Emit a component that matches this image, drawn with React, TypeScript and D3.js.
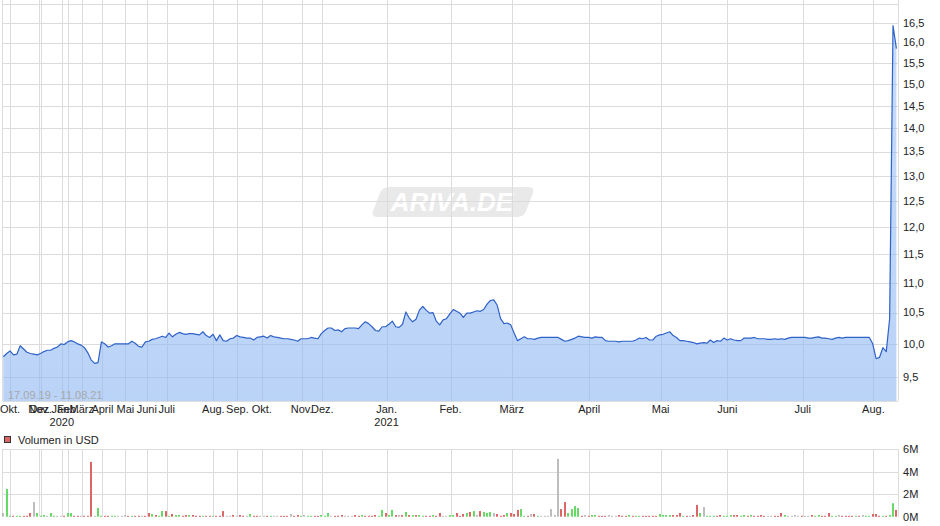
import React from 'react';
import * as d3 from 'd3';

// Kurs (USD) pro Handelstag, 17.09.19 - 11.08.21
const prices = [
  9.80, 9.85, 9.89, 9.83, 9.84, 9.97, 9.92, 9.87, 9.85, 9.84,
  9.83, 9.85, 9.88, 9.90, 9.90, 9.93, 9.95, 10.00, 9.99, 10.03,
  10.05, 10.03, 10.00, 9.98, 9.94, 9.86, 9.75, 9.70, 9.71, 10.03,
  10.00, 9.95, 9.97, 10.00, 10.00, 10.00, 10.00, 10.00, 10.04, 10.01,
  9.96, 9.95, 10.03, 10.04, 10.07, 10.08, 10.10, 10.12, 10.10, 10.17,
  10.11, 10.15, 10.18, 10.16, 10.15, 10.16, 10.16, 10.15, 10.14, 10.19,
  10.13, 10.10, 10.15, 10.05, 10.14, 10.05, 10.04, 10.08, 10.09, 10.13,
  10.11, 10.10, 10.09, 10.09, 10.06, 10.10, 10.11, 10.12, 10.09, 10.13,
  10.11, 10.10, 10.09, 10.08, 10.08, 10.07, 10.06, 10.04, 10.08, 10.08,
  10.08, 10.10, 10.09, 10.08, 10.16, 10.21, 10.25, 10.25, 10.21, 10.22,
  10.19, 10.24, 10.25, 10.25, 10.25, 10.24, 10.30, 10.35, 10.32, 10.27,
  10.21, 10.20, 10.27, 10.27, 10.31, 10.36, 10.27, 10.26, 10.31, 10.51,
  10.41, 10.35, 10.39, 10.54, 10.60, 10.54, 10.49, 10.50, 10.36, 10.30,
  10.38, 10.40, 10.48, 10.55, 10.52, 10.49, 10.42, 10.49, 10.49, 10.51,
  10.53, 10.52, 10.55, 10.64, 10.70, 10.71, 10.62, 10.40, 10.32, 10.33,
  10.30, 10.17, 10.05, 10.08, 10.11, 10.08, 10.08, 10.07, 10.09, 10.10,
  10.10, 10.10, 10.10, 10.10, 10.10, 10.07, 10.04, 10.05, 10.07, 10.09,
  10.12, 10.11, 10.10, 10.10, 10.09, 10.11, 10.10, 10.10, 10.05, 10.04,
  10.04, 10.04, 10.03, 10.04, 10.04, 10.04, 10.04, 10.06, 10.09, 10.08,
  10.10, 10.06, 10.06, 10.12, 10.14, 10.15, 10.17, 10.19, 10.13, 10.10,
  10.05, 10.05, 10.04, 10.03, 10.02, 10.00, 10.01, 10.02, 10.01, 10.06,
  10.02, 10.05, 10.04, 10.09, 10.06, 10.08, 10.06, 10.05, 10.05, 10.09,
  10.09, 10.09, 10.10, 10.08, 10.08, 10.08, 10.07, 10.07, 10.08, 10.07,
  10.08, 10.07, 10.09, 10.10, 10.10, 10.10, 10.10, 10.10, 10.09, 10.09,
  10.10, 10.11, 10.09, 10.09, 10.08, 10.07, 10.09, 10.10, 10.09, 10.10,
  10.10, 10.10, 10.10, 10.10, 10.10, 10.10, 10.10, 10.00, 9.77, 9.79,
  9.94, 9.88, 10.40, 16.43, 15.85,
];

// Volumen in Mio. USD pro Handelstag
const volumes = [
  0.33, 2.47, 0.08, 0.08, 0.08, 0.08, 0.08, 0.08, 0.33, 1.3,
  0.33, 0.08, 0.15, 0.08, 0.33, 0.08, 0.08, 0.08, 0.08, 0.33,
  0.33, 0.08, 0.08, 0.08, 0.08, 0.08, 4.88, 0.08, 0.77, 0.08,
  0.08, 0.08, 0.08, 0.08, 0.08, 0.08, 0.15, 0.08, 0.08, 0.08,
  0.08, 0.08, 0.08, 0.33, 0.24, 0.15, 0.08, 0.5, 0.5, 0.08,
  0.24, 0.15, 0.15, 0.08, 0.15, 0.15, 0.15, 0.08, 0.08, 0.08,
  0.08, 0.08, 0.08, 0.08, 0.08, 0.5, 0.08, 0.08, 0.15, 0.08,
  0.15, 0.08, 0.08, 0.24, 0.08, 0.08, 0.08, 0.08, 0.08, 0.08,
  0.08, 0.08, 0.08, 0.08, 0.08, 0.24, 0.08, 0.15,
  0.08, 0.15, 0.08, 0.08, 0.08, 0.08, 0.15, 0.08, 0.33, 0.08,
  0.08, 0.08, 0.15, 0.08, 0.08, 0.08, 0.15, 0.08, 0.15, 0.08,
  0.08, 0.08, 0.15, 0.08, 0.6, 0.33, 0.15, 0.6, 0.15, 0.15,
  0.15, 0.42, 0.15, 0.15, 0.15, 0.15, 0.08, 0.08, 0.08, 0.15,
  0.08, 0.33, 0.08, 0.08, 0.15, 0.15, 0.33, 0.08, 0.24, 0.33,
  0.42, 0.5, 0.15, 0.5, 0.42, 0.33, 0.42, 0.33, 0.24, 0.08,
  0.15, 0.33, 0.33, 0.24, 0.6, 0.68, 0.08, 0.08, 0.24, 0.24,
  0.08, 0.08, 0.08, 0.08, 0.68, 0.15, 5.15, 0.68, 1.3, 0.33,
  0.68, 0.95, 0.77, 0.08, 0.15, 0.08, 0.15, 0.15, 0.08,
  0.08, 0.08, 0.15, 0.08, 0.08, 0.15, 0.08, 0.08, 0.15, 0.08,
  0.08, 0.08, 0.08, 0.08, 0.08, 0.08, 0.08, 0.24, 0.15, 0.15,
  0.15, 0.15, 0.15, 0.33, 0.08, 0.08, 0.08, 0.15, 1.04, 0.33,
  0.86, 0.08, 0.08, 0.08, 0.08, 0.15, 0.08, 0.08, 0.15, 0.15,
  0.15, 0.08, 0.15, 0.08, 0.15, 0.08, 0.08, 0.15, 0.08, 0.08,
  0.08, 0.08, 0.08, 0.33, 0.15, 0.08, 0.08, 0.15, 0.08, 0.08,
  0.08, 0.08, 0.15, 0.08, 0.15, 0.08, 0.08, 0.33, 0.08, 0.08,
  0.15, 0.08, 0.08, 0.08, 0.08, 0.08, 0.08, 0.15, 0.08, 0.08,
  0.24, 0.24, 0.08, 0.08, 0.08, 0.15, 1.2, 0.6,
];

// u = gestiegen, d = gefallen, n = unverändert
const volumeDirection = (
  'nuuduudddn' + 'uuunuunndu' + 'uddndddnuu' + 'dduunnndud' + 'dndduduudu' +
  'duuddudddu' + 'ddudddnndn' + 'ddnuddnndu' + 'nndddndd' +
  'unuudduuun' + 'dddnnnddud' + 'ddduuduudn' + 'dududuuddu' + 'ddnnuudddu' +
  'dunduuundd' + 'duddduudnd' + 'unnnnnnddu' + 'uuudnduud' +
  'ddnnndddud' + 'uuddddduuu' + 'udddudnddu' + 'nuuudduuud' + 'duududdddn' +
  'ndddunnnnd' + 'nnduuddduu' + 'nddddudnuu' + 'ddduduud'
).split('');

// Monatsanfänge als Position auf der Handelstag-Achse
const monthLabels = ['Okt.', 'Nov.', 'Dez.', 'Jan.', 'Feb.', 'März', 'April', 'Mai', 'Juni', 'Juli', 'Aug.', 'Sep.', 'Okt.', 'Nov.', 'Dez.', 'Jan.', 'Feb.', 'März', 'April', 'Mai', 'Juni', 'Juli', 'Aug.'];
const monthPositions = [2.0, 10.6, 11.1, 17.3, 19.2, 23.2, 29.3, 36.1, 42.4, 48.3, 62.1, 69.2, 76.4, 88.2, 94.3, 113.3, 132.2, 150.3, 173.2, 194.3, 214.0, 236.3, 257.2];
const yearLabels = ['2020', '2021'];
const yearPositions = [17.3, 113.3];

const priceTicks = [9.5, 10.0, 10.5, 11.0, 11.5, 12.0, 12.5, 13.0, 13.5, 14.0, 14.5, 15.0, 15.5, 16.0, 16.5, 17.0];
const volumeTicks = [0, 2, 4, 6];

const font = '"Liberation Sans", Arial, sans-serif';
const gridColor = '#dcdcdc';
const dirColor: Record<string, string> = { u: '#66d966', d: '#dc6565', n: '#bdbdbd' };

const App = () => {
  const width = 940;
  const height = 526;
  const left = 2.5;
  const right = 898;
  const plotTop = 0;
  const plotBottom = 401;
  const volTop = 449.3;
  const volBottom = 516.7;

  const x = d3.scaleLinear().domain([0, prices.length - 1]).range([3.3, 896.4]);
  const y = d3.scaleLog().domain([9.5, 17]).range([376.7, 3.8]);
  const yv = d3.scaleLinear().domain([0, 6]).range([volBottom, volTop]);

  const area = d3.area<number>()
    .x((_, i) => x(i))
    .y0(plotBottom)
    .y1(d => y(d));
  const line = d3.line<number>()
    .x((_, i) => x(i))
    .y(d => y(d));

  const px = (v: number) => Math.round(v) + 0.5;
  const fmt = (v: number) => d3.format('.1f')(v).replace('.', ',');

  return (
    <svg width={width} height={height} style={{ position: 'absolute', left: 0, top: 0, background: '#fff' }} fontFamily={font}>
      <defs>
        <linearGradient id="fillGrad" x1="0" y1="0" x2="0" y2="1">
          <stop offset="0%" stopColor="#8fb8f2" stopOpacity={0.5} />
          <stop offset="100%" stopColor="#8fb8f2" stopOpacity={0.62} />
        </linearGradient>
        <clipPath id="plotClip">
          <rect x={left} y={plotTop} width={right - left} height={plotBottom - plotTop} />
        </clipPath>
      </defs>

      {/* watermark */}
      <g transform="translate(452,202)">
        <path d="M-62,-15 L76,-15 Q83,-15 81,-9 L74,9 Q72,15 64,15 L-74,15 Q-81,15 -79,9 L-72,-9 Q-70,-15 -62,-15 Z" fill="#e9e9e9" />
        <text x={0} y={9} textAnchor="middle" fontSize={26} fontWeight="bold" fontStyle="italic" fill="#fff">ARIVA.DE</text>
      </g>

      {/* price grid */}
      {priceTicks.map(t => (
        <line key={'h' + t} x1={left} x2={right} y1={px(y(t))} y2={px(y(t))} stroke={gridColor} />
      ))}
      {monthPositions.map((p, i) => (
        <line key={'v' + i} x1={px(x(p))} x2={px(x(p))} y1={plotTop} y2={plotBottom} stroke={gridColor} />
      ))}
      <line x1={left} x2={left} y1={plotTop} y2={plotBottom} stroke={gridColor} />
      <line x1={right + 0.5} x2={right + 0.5} y1={plotTop} y2={plotBottom} stroke={gridColor} />

      <g clipPath="url(#plotClip)">
        <path d={area(prices) ?? ''} fill="url(#fillGrad)" />
        <path d={line(prices) ?? ''} fill="none" stroke="#2f62c8" strokeWidth={1.2} strokeLinejoin="round" />
      </g>
      <line x1={left} x2={right} y1={plotBottom + 0.5} y2={plotBottom + 0.5} stroke={gridColor} />

      <text x={8} y={399} fontSize={11} fill="#a8a8a8">17.09.19 - 11.08.21</text>

      {/* price axis */}
      {priceTicks.filter(t => t < 17).map(t => (
        <text key={'yl' + t} x={903} y={y(t)} dy="0.35em" fontSize={11} fill="#222">{fmt(t)}</text>
      ))}

      {/* month axis */}
      {monthLabels.map((m, i) => (
        <text key={'m' + i} x={x(monthPositions[i])} y={413} textAnchor="middle" fontSize={11} fill="#222">{m}</text>
      ))}
      {yearLabels.map((yl, i) => (
        <text key={'y' + i} x={x(yearPositions[i])} y={426} textAnchor="middle" fontSize={11} fill="#222">{yl}</text>
      ))}

      {/* volume legend */}
      <rect x={4.5} y={436.5} width={6} height={6} fill="#dc6565" stroke="#333" />
      <text x={18} y={444} fontSize={11} fill="#222">Volumen in USD</text>

      {/* volume grid */}
      {volumeTicks.filter(t => t > 0).map(t => (
        <line key={'vh' + t} x1={left} x2={right} y1={px(yv(t))} y2={px(yv(t))} stroke={gridColor} />
      ))}
      {monthPositions.map((p, i) => (
        <line key={'vv' + i} x1={px(x(p))} x2={px(x(p))} y1={volTop} y2={volBottom} stroke={gridColor} />
      ))}
      <line x1={left} x2={left} y1={volTop} y2={volBottom} stroke={gridColor} />
      <line x1={right + 0.5} x2={right + 0.5} y1={volTop} y2={volBottom} stroke={gridColor} />

      {volumes.map((v, i) => (
        <rect key={'b' + i} x={Math.round(x(i)) - 1} y={yv(v)} width={2} height={Math.max(1, volBottom - yv(v))} fill={dirColor[volumeDirection[i]] ?? '#bdbdbd'} />
      ))}

      {volumeTicks.map(t => (
        <text key={'vl' + t} x={903} y={yv(t)} dy="0.35em" fontSize={11} fill="#222">{t}M</text>
      ))}
    </svg>
  );
};

export default App;
